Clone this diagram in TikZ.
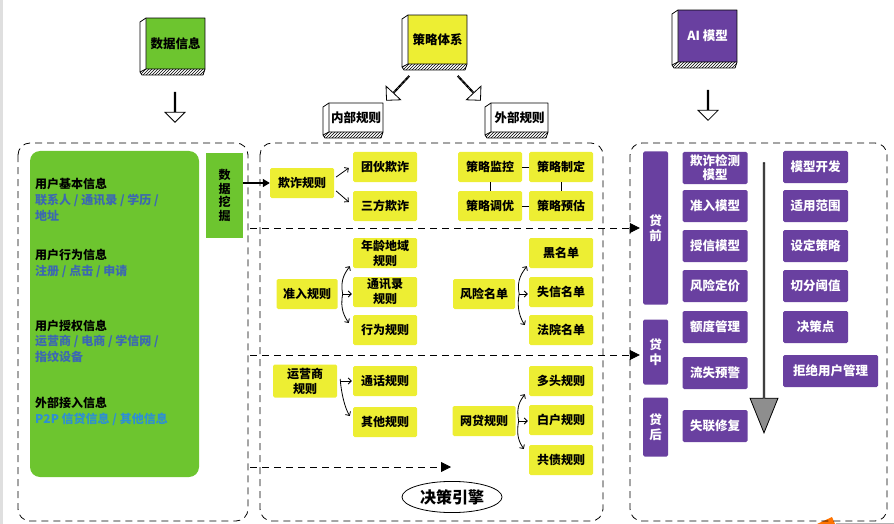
\documentclass[tikz,border=0pt]{standalone}
\usepackage{fontspec}
\setmainfont{Noto Sans CJK SC}
\usetikzlibrary{arrows.meta,patterns,shapes.geometric,shapes.arrows}
\definecolor{cgreen}{HTML}{6DC52F}
\definecolor{cyellow}{HTML}{EDEE33}
\definecolor{cpurple}{HTML}{6940A0}
\definecolor{cblue}{HTML}{3C68B2}
\definecolor{ccyan}{HTML}{2E8FD3}
\definecolor{cgray}{HTML}{8E8E8E}
\newcommand\fz[2]{\fontsize{#1}{#2}\selectfont\bfseries}
\newcommand\headbox[7]{%
  \fill[#6] (#2+6,#3) rectangle (#4,#5-6);
  \fill[white] (#2,#3+4) -- (#2+6,#3) -- (#2+6,#5-6) -- (#2,#5-3) -- cycle;
  \fill[pattern=north east lines] (#2,#5-3) -- (#2+6,#5-6) -- (#4,#5-6) -- (#4-2,#5) -- (#2+2,#5) -- cycle;
  \draw[thick,line join=round] (#2,#3+4) -- (#2+6,#3) -- (#4,#3) -- (#4,#5-6) -- (#4-2,#5) -- (#2+2,#5) -- (#2,#5-3) -- cycle;
  \draw[thick] (#2+6,#3) -- (#2+6,#5-6) -- (#4,#5-6) (#2,#5-3) -- (#2+6,#5-6);
  \node[font=\fz{12.5}{14}] (#1) at ({(#2+6+#4)/2},{(#3+#5-6)/2}) {#7};}
\begin{document}
\begin{tikzpicture}[x=1pt,y=-1pt,
  ybox/.style={fill=cyellow, minimum width=64pt, minimum height=30pt, inner sep=1pt, align=center, font=\fz{12}{15}, rounded corners=1.5pt},
  pbox/.style={fill=cpurple, text=white, minimum width=65pt, minimum height=32pt, inner sep=1pt, align=center, font=\fz{12.5}{15}, rounded corners=1.5pt},
  sidebox/.style={pbox, minimum width=25pt},
  panel/.style={thick, dash pattern=on 7pt off 5pt, rounded corners=12pt},
  farrow/.style={thick, -{Straight Barb[length=3pt,width=6pt]}},
  darrow/.style={thick, dash pattern=on 7pt off 5pt, -{Triangle[length=10pt,width=10pt]}},
  hollow/.style={single arrow, draw, thick, fill=white, inner sep=0pt, minimum width=20pt, minimum height=30pt, single arrow head extend=6pt},
  ltitle/.style={anchor=west, font=\fz{12}{14}, inner sep=0pt},
  ltext/.style={anchor=west, font=\fz{12}{14}, text=cblue, inner sep=0pt}]
\useasboundingbox (0,0) rectangle (894,524);
\fill[gray!25] (0,0) rectangle (3,524);
\fill[orange!90!red] (817,524) -- (832,517) -- (835,524) -- cycle;
\draw[gray!60, thick] (836,523) -- (894,523);

% headers
\headbox{hdata}{140}{18}{205}{75}{cgreen}{数据信息}
\headbox{hstrat}{402}{15}{467}{70}{cyellow}{策略体系}
\headbox{hin}{323}{103}{383}{138}{white}{内部规则}
\headbox{hout}{485}{103}{548}{138}{white}{外部规则}
\headbox{hai}{672}{10}{737}{68}{cpurple}{\color{white}AI 模型}

\node[hollow, rotate=-90] (a1) at (175,107) {};
\node[hollow, rotate=-90] (a2) at (708,105) {};
\node[hollow, rotate=-133, minimum height=33pt] (a3) at (398,88) {};
\node[hollow, rotate=-47, minimum height=33pt] (a4) at (469,88) {};

% panels
\draw[panel] (18,143) rectangle (248,521);
\draw[panel] (260,143) rectangle (603,521);
\draw[panel] (630,143) rectangle (887,521);

% left panel
\node[fill=cgreen, minimum width=169pt, minimum height=326pt, rounded corners=10pt] (gb) at (114.5,314) {};
\node[fill=cgreen, minimum width=37pt, minimum height=85pt, align=center, font=\fz{12}{13.5}] (sj) at (224.5,195.5) {数\\据\\挖\\掘};
\node[ltitle] (t1) at (35,184) {用户基本信息};
\node[ltext] (t1a) at (35,200) {联系人 / 通讯录 / 学历 /};
\node[ltext] (t1b) at (35,216) {地址};
\node[ltitle] (t2) at (35,255) {用户行为信息};
\node[ltext] (t2a) at (35,271) {注册 / 点击 / 申请};
\node[ltitle] (t3) at (35,326) {用户授权信息};
\node[ltext] (t3a) at (35,341) {运营商 / 电商 / 学信网 /};
\node[ltext] (t3b) at (35,357) {指纹设备};
\node[ltitle] (t4) at (35,403) {外部接入信息};
\node[ltext, text=ccyan] (t4a) at (35,419) {P2P 信贷信息 / 其他信息};

% middle panel
\node[ybox] (qz) at (302,183) {欺诈规则};
\node[ybox] (tf) at (385,167) {团伙欺诈};
\node[ybox] (sf) at (385,206) {三方欺诈};
\node[ybox] (jk) at (490,167) {策略监控};
\node[ybox] (zd) at (561,167) {策略制定};
\node[ybox] (dy) at (490,206) {策略调优};
\node[ybox] (yg) at (561,206) {策略预估};
\draw[thick] (jk.east) -- (zd.west);
\draw[thick] (dy.east) -- (yg.west);
\draw[thick] (jk.south) -- (dy.north);
\draw[thick] (zd.south) -- (yg.north);
\draw[farrow] ([shift={(2,-6)}]qz.east) -- ([shift={(-4,1)}]tf.west);
\draw[farrow] ([shift={(2,8)}]qz.east) -- ([shift={(-4,-4)}]sf.west);
\draw[line width=1.5pt, -{Triangle[length=7pt,width=8pt]}] (sj.east |- qz.west) -- (qz.west);

\node[ybox, minimum width=61pt] (zr) at (307,294) {准入规则};
\node[ybox] (nl) at (385,253) {年龄地域\\规则};
\node[ybox] (tx) at (385,292) {通讯录\\规则};
\node[ybox] (xw) at (385,330) {行为规则};
\coordinate (zrf) at ([xshift=5pt]zr.east);
\draw[farrow] (zrf) -- ([xshift=-1pt]zrf -| tx.west);
\draw[farrow] (zrf) .. controls +(-3,-15) and +(-4,6) .. ([shift={(-3,-2)}]nl.south west);
\draw[farrow] (zrf) .. controls +(-3,15) and +(-4,-6) .. ([shift={(-4,-7)}]xw.west);

\node[ybox, minimum width=62pt] (fx) at (484,294) {风险名单};
\node[ybox] (hm) at (561,253) {黑名单};
\node[ybox] (sx) at (561,292) {失信名单};
\node[ybox] (fy) at (561,330) {法院名单};
\coordinate (fxf) at ([xshift=4pt]fx.east);
\draw[farrow] (fxf) -- ([xshift=-1pt]fxf -| sx.west);
\draw[farrow] (fxf) .. controls +(-3,-15) and +(-4,6) .. ([shift={(-2,-2)}]hm.south west);
\draw[farrow] (fxf) .. controls +(-3,15) and +(-4,-6) .. ([shift={(-4,-5)}]fy.west);

\node[ybox, minimum width=64pt, minimum height=33pt] (yy) at (305,381) {运营商\\规则};
\node[ybox] (th) at (385,381) {通话规则};
\node[ybox] (qt) at (385,422) {其他规则};
\coordinate (yyf) at ([xshift=3pt]yy.east);
\draw[farrow] (yyf) -- ([xshift=-1pt]yyf -| th.west);
\draw[farrow] ([yshift=2pt]yyf) .. controls +(1,14) and +(-5,-8) .. ([shift={(-3,-6)}]qt.west);

\node[ybox, minimum width=63pt] (wd) at (484,421) {网贷规则};
\node[ybox] (dt) at (561,381) {多头规则};
\node[ybox] (bh) at (561,420) {白户规则};
\node[ybox] (gz) at (561,460) {共债规则};
\coordinate (wdf) at ([xshift=3pt]wd.east);
\draw[farrow] (wdf) -- ([xshift=-1pt]wdf -| bh.west);
\draw[farrow] (wdf) .. controls +(-3,-15) and +(-4,6) .. ([shift={(-4,-2)}]dt.south west);
\draw[farrow] (wdf) .. controls +(-3,15) and +(-4,-6) .. ([shift={(-5,-11)}]gz.west);

\node[draw, thick, ellipse, minimum width=100pt, minimum height=29pt, font=\fz{16}{18}] (jc) at (452,497) {决策引擎};

% right panel
\node[sidebox, minimum height=153pt] (dq) at (655.5,228) {贷\\前};
\node[sidebox, minimum height=65pt] (dz) at (655.5,352) {贷\\中};
\node[sidebox, minimum height=59pt] (dh) at (655.5,427) {贷\\后};
\node[pbox, font=\fz{12.5}{14}] (m1) at (715,168) {欺诈检测\\模型};
\node[pbox] (m2) at (715,206) {准入模型};
\node[pbox] (m3) at (715,246) {授信模型};
\node[pbox] (m4) at (715,286) {风险定价};
\node[pbox] (m5) at (715,327) {额度管理};
\node[pbox] (m6) at (715,373) {流失预警};
\node[pbox] (m7) at (715,426) {失联修复};
\node[pbox] (r1) at (815.5,167) {模型开发};
\node[pbox] (r2) at (815.5,206) {适用范围};
\node[pbox] (r3) at (815.5,246) {设定策略};
\node[pbox] (r4) at (815.5,286) {切分阈值};
\node[pbox] (r5) at (815.5,327) {决策点};
\node[pbox, minimum width=95pt] (r6) at (830.5,371) {拒绝用户管理};
\node[single arrow, draw, thick, fill=cgray, inner sep=0pt, minimum width=28pt, minimum height=270pt, single arrow head extend=8pt, single arrow tip angle=44, rotate=-90] (ga) at (764,297) {};

% cross-panel arrows
\coordinate (s1) at (250,228);
\coordinate (s2) at (250,355);
\coordinate (s3) at (250,467);
\coordinate (e3) at (451,467);
\draw[darrow] (s1) -- ([xshift=-3pt]s1 -| dq.west);
\draw[darrow] (s2) -- ([xshift=-3pt]s2 -| dz.west);
\draw[darrow] (s3) -- (e3);
\end{tikzpicture}
\end{document}
